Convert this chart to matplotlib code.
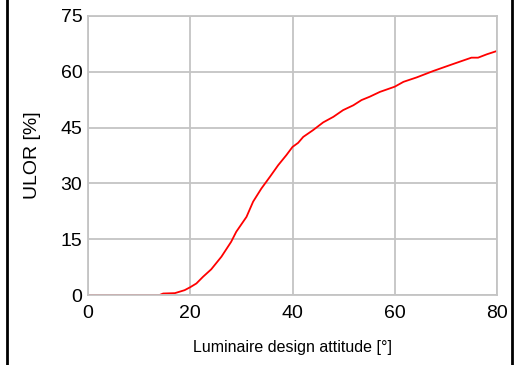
import matplotlib.pyplot as plt
from matplotlib.lines import Line2D

# values
attitude = [0, 14.0, 14.7, 17.0, 18.9, 20.0, 21.2, 22.5, 24.1, 26.1, 28.0, 29.0,
            31.0, 32.3, 33.9, 35.6, 37.2, 38.8, 40.0, 41.1, 42.1, 44.0, 46.0,
            48.0, 49.9, 51.9, 53.5, 55.1, 57.1, 60.0, 61.7, 64.3, 67.5, 70.8,
            73.1, 75.0, 76.3, 78.0, 80.0]
ulor = [0, 0, 0.4, 0.5, 1.3, 2.1, 3.1, 4.9, 6.9, 10.3, 14.3, 17.0,
        21.0, 25.1, 28.6, 31.8, 34.9, 37.6, 39.8, 40.9, 42.5, 44.3, 46.4,
        47.9, 49.7, 51.0, 52.4, 53.3, 54.6, 56.0, 57.3, 58.5, 60.2, 61.8,
        62.9, 63.8, 63.8, 64.7, 65.6]
xticks = [0, 20, 40, 60, 80]
yticks = [0, 15, 30, 45, 60, 75]

plt.rcParams['font.family'] = ['Liberation Sans', 'DejaVu Sans']

fig = plt.figure(figsize=(5.17, 3.65), dpi=100)
ax = fig.add_axes([88 / 517, 1 - 295 / 365, 409 / 517, 279 / 365])

ax.plot(attitude, ulor, color="red", lw=1.3)
ax.set_xlim(0, 80)
ax.set_ylim(0, 75)
ax.set_xticks(xticks)
ax.set_yticks(yticks)
ax.grid(True, color="#c4c4c4", lw=1.3)
ax.set_axisbelow(True)
for s in ax.spines.values():
    s.set_color("#c4c4c4")
    s.set_linewidth(1.3)
ax.tick_params(length=0, labelsize=14)
ax.tick_params(axis="x", pad=7)
ax.tick_params(axis="y", pad=4)
ax.set_xlabel("Luminaire design attitude [°]", fontsize=11.5, labelpad=13)
ax.set_ylabel("ULOR [%]", fontsize=14, labelpad=14)

# black frame lines on left and right edges
fig.add_artist(Line2D([7 / 517, 7 / 517], [0, 1], color="black", lw=2))
fig.add_artist(Line2D([512 / 517, 512 / 517], [0, 1], color="black", lw=2))

fig.savefig("out.png", dpi=100)
